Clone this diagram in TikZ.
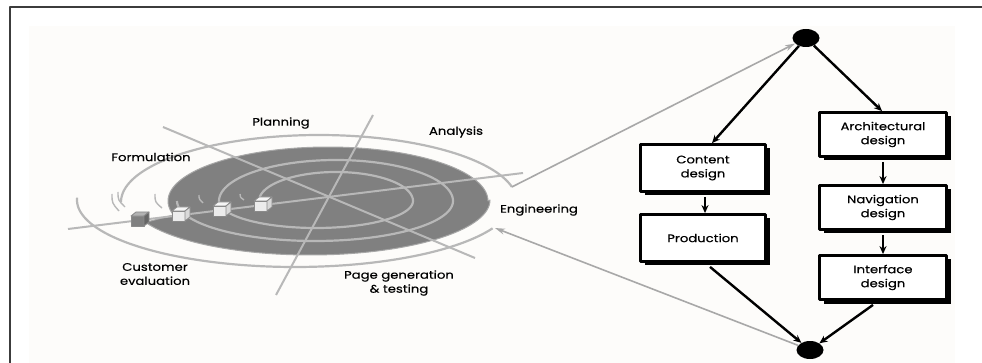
\documentclass[tikz,border=0pt]{standalone}
\usepackage{fontspec}
\setmainfont{Poppins}[FakeStretch=1.2,FakeBold=0.4]
\usetikzlibrary{arrows.meta,shadows,shapes.geometric}
\definecolor{ringc}{HTML}{B8B8B8}
\definecolor{darkc}{HTML}{808080}
\definecolor{framec}{HTML}{3C3C3C}
\definecolor{innerbg}{HTML}{FDFCFA}
\definecolor{garrowc}{HTML}{A8A8A8}
\definecolor{cubeedge}{HTML}{8A8A8A}
\begin{document}
\begin{tikzpicture}[x=1pt,y=-1pt,line join=round,
  ring/.style={draw=ringc,line width=2.2pt},
  spoke/.style={draw=ringc,line width=2pt},
  garrow/.style={draw=garrowc,line width=1.6pt,-{Stealth[length=10pt,width=6pt]}},
  blk/.style={draw=black,line width=2.4pt,-{Stealth[length=8pt,width=7pt]}},
  lbl/.style={font=\fontsize{11}{14}\selectfont,align=center,inner sep=0pt},
  stagebox/.style={draw=black,line width=2.8pt,fill=white,align=center,
    font=\fontsize{11}{14}\selectfont,inner sep=0pt,
    drop shadow={shadow xshift=4pt,shadow yshift=-4pt,fill=black,opacity=1}},
  leftbox/.style={stagebox,minimum width=125pt,minimum height=47pt},
  rightbox/.style={stagebox,minimum width=127pt,minimum height=44pt},
  dot/.style={ellipse,fill=black,minimum width=27pt,minimum height=18pt,inner sep=0pt},
  tick/.style={draw=ringc,line width=1.4pt},
  pics/cube/.style n args={3}{code={
    \filldraw[fill=#1,draw=cubeedge,line width=0.8pt] (-10,-3) rectangle (3,7);
    \filldraw[fill=#2,draw=cubeedge,line width=0.8pt] (-10,-3) -- (-5,-7) -- (8,-7) -- (3,-3) -- cycle;
    \filldraw[fill=#3,draw=cubeedge,line width=0.8pt] (3,-3) -- (8,-7) -- (8,3) -- (3,7) -- cycle;
  }}]
\useasboundingbox (0,0) rectangle (982,363);
\fill[white] (0,0) rectangle (982,363);
\fill[innerbg] (29,26) rectangle (955,363);
\draw[framec,line width=2pt] (10,363) -- (10,7) -- (982,7);

% dark spiral body
\fill[darkc,draw=ringc!70!darkc,line width=1pt]
  plot[domain=165:360,samples=80] ({328+160*cos(\x)},{201+54*sin(\x)})
  -- plot[domain=0:156,samples=80] ({310+180*cos(\x)},{200+55*sin(\x)}) -- cycle;

% spiral rings
\draw[ring] plot[domain=180:360,samples=60] ({336+77*cos(\x)},{201+29*sin(\x)})
  -- plot[domain=0:180,samples=60] ({316+97*cos(\x)},{201+27*sin(\x)});
\draw[ring] plot[domain=180:360,samples=70] ({336+117*cos(\x)},{201+41*sin(\x)})
  -- plot[domain=0:180,samples=70] ({315+138*cos(\x)},{201+40*sin(\x)});
\draw[ring] plot[domain=180:347,samples=90] ({319+198*cos(\x)},{202+67*sin(\x)});
\coordinate (kink) at ({319+198*cos(347)},{202+67*sin(347)});
\draw[ring] plot[domain=25:182,samples=90] ({295+218*cos(\x)},{200+67*sin(\x)});
\coordinate (eng) at (495,228);

% spokes
\draw[spoke] (68,229) -- (523,173);
\draw[spoke] (373,115) -- (276,295);
\draw[spoke] (163,127) -- (475,258);

% motion ticks
\draw[tick] (112,194) .. controls (112,203) .. (119,211);
\draw[tick] (118,192) .. controls (118,200) .. (125,207);
\draw[tick] (155,194) .. controls (155,202) .. (162,208);
\draw[tick] (199,195) .. controls (199,199) .. (203,203);
\draw[tick] (240,194) .. controls (240,197) .. (244,200);

% cubes
\pic at (141,219) {cube={gray}{gray!60}{gray!80!black}};
\pic at (182,214) {cube={gray!15}{gray!8}{gray!30}};
\pic at (223,209) {cube={gray!15}{gray!8}{gray!30}};
\pic at (264,204) {cube={gray!15}{gray!8}{gray!30}};

% labels
\node[lbl] (plan) at (281,123) {Planning};
\node[lbl] (anal) at (456,132) {Analysis};
\node[lbl] (form) at (151,157) {Formulation};
\node[lbl] (engl) at (539,210) {Engineering};
\node[lbl] (cust) at (155,274) {Customer\\evaluation};
\node[lbl] (page) at (399,283) {Page generation\\\& testing};

% flow
\node[dot] (top) at (806,38) {};
\node[dot] (bot) at (810,350) {};
\node[leftbox] (content) at (703,168) {Content\\design};
\node[leftbox] (prod) at (703,238) {Production};
\node[rightbox] (arch) at (883,134.5) {Architectural\\design};
\node[rightbox] (nav) at (883,207.5) {Navigation\\design};
\node[rightbox] (intf) at (883,277.5) {Interface\\design};

\draw[blk] (top) -- ([xshift=9pt]content.north);
\draw[blk] (top) -- ([xshift=-1pt]arch.north);
\draw[blk] ([xshift=2pt,yshift=-4pt]content.south) -- ([xshift=2pt]prod.north);
\draw[blk] ([yshift=-4pt]arch.south) -- (nav.north);
\draw[blk] ([yshift=-4pt]nav.south) -- (intf.north);
\draw[blk] ([xshift=7pt,yshift=-4pt]prod.south) -- (bot);
\draw[blk] ([xshift=-10pt,yshift=-4pt]intf.south) -- (bot);

\draw[garrow] (kink) -- (top);
\draw[garrow] (bot) -- (eng);
\end{tikzpicture}
\end{document}
